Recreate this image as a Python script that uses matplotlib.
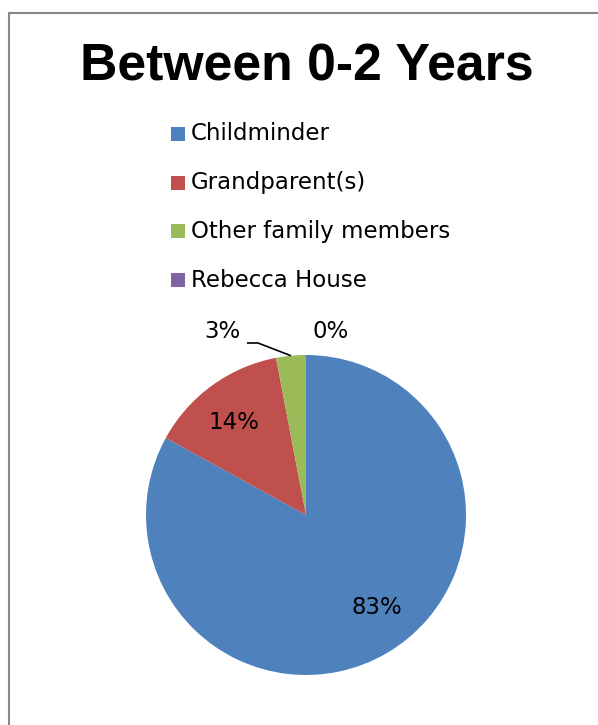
import matplotlib
matplotlib.use("Agg")
import matplotlib.pyplot as plt
from matplotlib.patches import Rectangle
import numpy as np

# Data
categories = ["Childminder", "Grandparent(s)", "Other family members", "Rebecca House"]
values = [83, 14, 3, 0]
pct_labels = ["83%", "14%", "3%", "0%"]
colors = ["#4F81BD", "#C0504D", "#9BBB59", "#8064A2"]

W, H = 598, 725
fig = plt.figure(figsize=(W / 100, H / 100), dpi=100)
fig.patch.set_facecolor("white")

# Chart frame (left and top edges visible inside the canvas)
fig.patches.append(Rectangle((9 / W, -0.1), 1.2, (H - 13) / H + 0.1,
                             transform=fig.transFigure, fill=False,
                             edgecolor="#868686", linewidth=1.5))

# Title
fig.text(306.5 / W, 1 - 67 / H, "Between 0-2 Years", ha="center", va="center",
         fontsize=37.3, fontweight="bold", family="Liberation Sans")

# Legend drawn as squares + labels
for i, (cat, col) in enumerate(zip(categories, colors)):
    yc = 134 + i * 48.7
    fig.patches.append(Rectangle((171 / W, 1 - (yc + 7) / H), 14 / W, 14 / H,
                                 transform=fig.transFigure, facecolor=col,
                                 edgecolor="none"))
    fig.text(191 / W, 1 - yc / H, cat, ha="left", va="center",
             fontsize=16.5, family="DejaVu Sans", color="black")

# Pie
cx, cy, r = 306, 515, 160
ax = fig.add_axes([(cx - r) / W, (H - cy - r) / H, 2 * r / W, 2 * r / H])
wedges, _ = ax.pie(values, colors=colors, startangle=90, counterclock=False,
                   radius=1.0, wedgeprops=dict(linewidth=0))
ax.set_xlim(-1, 1)
ax.set_ylim(-1, 1)
ax.set_aspect("equal")
ax.axis("off")

# Percentage labels
label_pos = [(0.445, -0.575), (-0.453, 0.58), (-0.525, 1.15), (0.156, 1.15)]
for (x, y), t in zip(label_pos, pct_labels):
    ax.text(x, y, t, ha="center", va="center", fontsize=16.5,
            family="DejaVu Sans", color="black", clip_on=False)

# Leader line for the small green slice
w = wedges[2]
mid = np.deg2rad((w.theta1 + w.theta2) / 2)
ex, ey = np.cos(mid), np.sin(mid)
ax.plot([-0.369, -0.30, ex], [1.075, 1.075, ey], color="black", lw=1.2,
        clip_on=False, solid_capstyle="butt")

fig.savefig("out.png", dpi=100)
